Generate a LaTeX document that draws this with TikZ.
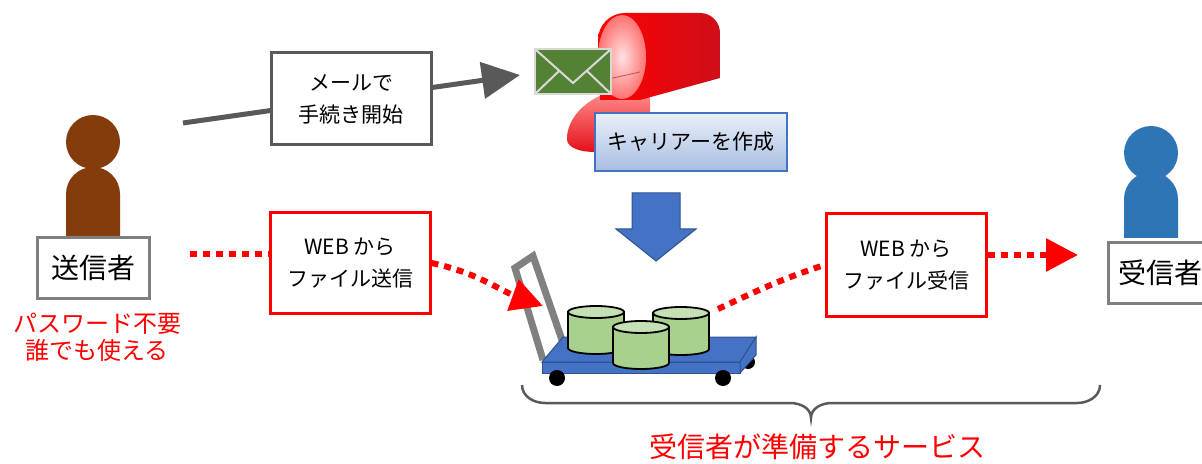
\documentclass[tikz,border=0pt]{standalone}
\usepackage{fontspec}
\setmainfont{Noto Sans CJK JP}
\usetikzlibrary{arrows.meta}
\definecolor{senderbrown}{HTML}{843C0C}
\definecolor{receiverblue}{HTML}{2E75B6}
\definecolor{arrowgray}{HTML}{595959}
\definecolor{boxgray}{HTML}{7F7F7F}
\definecolor{cartblue}{HTML}{4472C4}
\definecolor{cartedge}{HTML}{2F528F}
\definecolor{handlegray}{HTML}{808080}
\definecolor{drumgreen}{HTML}{A9D18E}
\definecolor{drumtop}{HTML}{C5E0B4}
\definecolor{envgreen}{HTML}{548235}
\definecolor{envedge}{HTML}{D9D9D9}
\definecolor{mailred}{HTML}{E5101B}
\definecolor{labeltop}{HTML}{EAF0F9}
\definecolor{labelbottom}{HTML}{A7BDE2}
\begin{document}
\begin{tikzpicture}[x=0.5pt,y=-0.5pt,
  namebox/.style={draw=boxgray,line width=1.5pt,fill=white,font=\fontsize{14}{16}\selectfont},
  stepbox/.style={draw=arrowgray,line width=1.5pt,fill=white,align=center,font=\fontsize{10.5}{16}\selectfont},
  webbox/.style={draw=red,line width=1.5pt,fill=white,align=center,font=\fontsize{10.5}{16}\selectfont},
  reddots/.style={red,line width=3pt,dash pattern=on 3.5pt off 3pt},
  redtip/.style={-{Triangle[length=16pt,width=16pt]}},
  drum/.style={fill=drumgreen,draw=black,line width=0.9pt}]
\useasboundingbox (0,0) rectangle (1202,464);

\fill[senderbrown] (66,236) -- (66,194) arc[start angle=180,end angle=0,radius=13.5pt] -- (120,236) -- cycle;
\fill[senderbrown] (93,142) circle[radius=13.5pt];
\node[namebox,minimum width=56pt,minimum height=30pt] (sender) at (93,268) {送信者};
\node[red,align=center,font=\fontsize{12}{13.5}\selectfont] (nopass) at (97,337) {パスワード不要\\誰でも使える};

\fill[receiverblue] (1124,238) -- (1124,199) arc[start angle=180,end angle=0,radius=13.5pt] -- (1178,238) -- cycle;
\fill[receiverblue] (1151,153) circle[radius=13.5pt];
\node[namebox,anchor=west,inner xsep=5pt,minimum height=30pt] (receiver) at (1107,273) {受信者};

\coordinate (mailfrom) at (183,123);
\coordinate (mailto) at (520,75);
\draw[arrowgray,line width=2.5pt,-{Triangle[length=19pt,width=18pt]}] (mailfrom) -- (mailto);
\node[stepbox,minimum width=80pt,minimum height=46pt] (mailstep) at (351,99) {メールで\\手続き開始};

\shade[top color=red!45!white,bottom color=mailred] (612,92) .. controls (585,98) and (566,120) .. (567,140) .. controls (568,148) and (580,152) .. (595,152) -- (650,150) -- (650,92) -- cycle;
\shade[left color=red,right color=mailred!90!black] (598,40) to[out=90,in=180] (625,13) -- (700,13) to[out=0,in=90] (720,33) -- (720,78) -- (640,100) -- (600,100) -- cycle;
\shade[inner color=red!12!white,outer color=red!55!white] (622,57) ellipse[x radius=12pt,y radius=21pt];
\draw[red!30!gray,line width=0.4pt] (604,80) -- (640,72);
\filldraw[fill=envgreen,draw=envedge,line width=1pt] (535,49) rectangle (611,94);
\draw[envedge,line width=1pt] (536,50) -- (573,83) -- (610,50) (536,93) -- (559,71) (610,93) -- (587,71);
\node[draw=cartblue,line width=0.75pt,top color=labeltop,bottom color=labelbottom,minimum width=96pt,minimum height=29pt,font=\fontsize{10.5}{12}\selectfont] (carrier) at (691,142) {キャリアーを作成};

\filldraw[fill=cartblue,draw=cartedge,line width=0.5pt] (632,193) -- (680,193) -- (680,229) -- (696,229) -- (656,261) -- (616,229) -- (632,229) -- cycle;

\fill[black] (748,362) circle[radius=3.5pt];
\draw[handlegray,line width=3.5pt] (543,360) -- (515,268) -- (533,256) -- (562,340);
\filldraw[fill=cartblue,draw=cartedge,line width=0.5pt] (542,362) -- (563,337) -- (756,337) -- (740,362) -- cycle;
\filldraw[fill=cartblue,draw=cartedge,line width=0.5pt] (542,362) rectangle (740,373);
\filldraw[fill=cartblue,draw=cartedge,line width=0.5pt] (740,362) -- (756,337) -- (756,355) -- (740,373) -- cycle;
\fill[black] (557,378) circle[radius=4pt] (723,378) circle[radius=4pt];
\foreach \cx/\ty in {596/312,681/313,641/327}{
  \filldraw[drum] (\cx-28,\ty) -- (\cx-28,\ty+36) arc[start angle=180,end angle=360,x radius=14pt,y radius=3pt] -- (\cx+28,\ty) -- cycle;
  \filldraw[drum,fill=drumtop] (\cx,\ty) ellipse[x radius=14pt,y radius=3pt];
}

\node[webbox,minimum width=80pt,minimum height=50pt] (sendweb) at (350,263) {WEB から\\ファイル送信};
\node[webbox,minimum width=80pt,minimum height=51pt] (recvweb) at (906,265) {WEB から\\ファイル受信};
\coordinate (senddot) at (190,254);
\coordinate (cartin) at (543,306);
\coordinate (cartout) at (718,309);
\coordinate (recvtip) at (1078,255);
\draw[reddots] (senddot) -- (senddot -| sendweb.west);
\draw[reddots,redtip] (sendweb.east) to[out=-12,in=160] (cartin);
\draw[reddots] (cartout) to[out=25,in=-162] (recvweb.west);
\draw[reddots,redtip] (recvtip -| recvweb.east) -- (recvtip);

\draw[arrowgray,line width=1.25pt] (522,385) to[out=-90,in=180] (545,403) -- (790,403) to[out=0,in=90] (811,418) to[out=90,in=180] (832,403) -- (1077,403) to[out=0,in=-90] (1100,385);
\node[red,font=\fontsize{14}{16}\selectfont] (service) at (817,447) {受信者が準備するサービス};
\end{tikzpicture}
\end{document}
